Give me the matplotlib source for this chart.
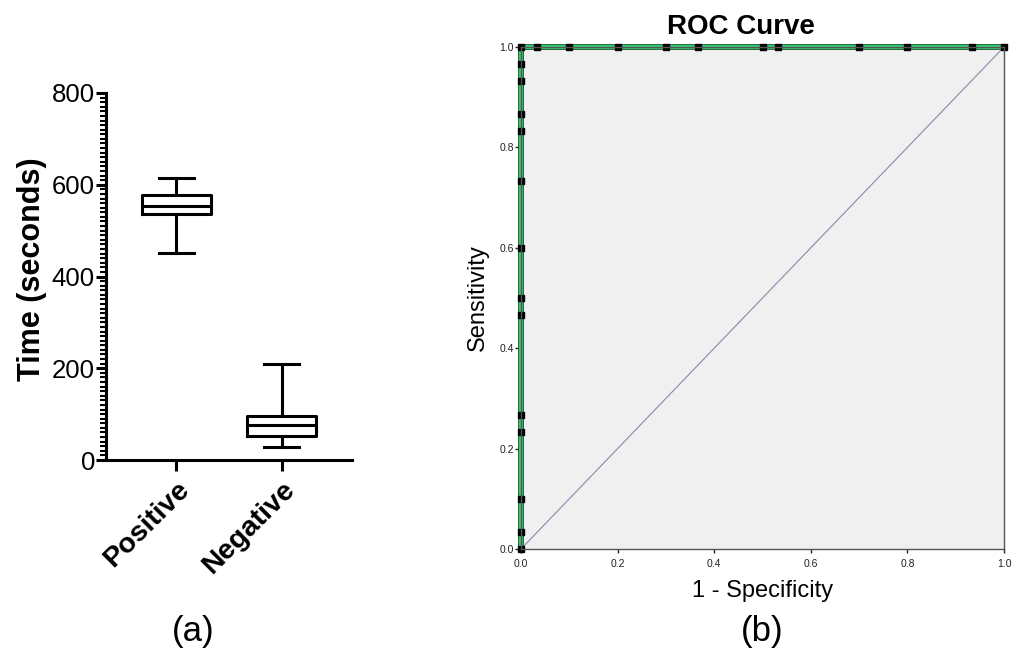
import numpy as np
import matplotlib
matplotlib.use('Agg')
import matplotlib.pyplot as plt
import matplotlib.patheffects as pe
from matplotlib.ticker import MultipleLocator, FormatStrFormatter

plt.rcParams['font.family'] = ['Liberation Sans', 'DejaVu Sans']

# (a) box plot summary, seconds
groups   = ['Positive', 'Negative']
whis_lo  = [451, 29]
q1       = [536, 52]
median   = [553, 76]
q3       = [577, 97]
whis_hi  = [615, 209]

# (b) ROC curve points
roc_fpr = [0.0, 0.0, 0.0, 0.0, 0.0, 0.0, 0.0, 0.0, 0.0, 0.0, 0.0, 0.0, 0.0, 0.0,
           0.033, 0.1, 0.2, 0.3, 0.367, 0.5, 0.533, 0.7, 0.8, 0.933, 1.0]
roc_tpr = [0.0, 0.033, 0.1, 0.233, 0.267, 0.467, 0.5, 0.6, 0.733, 0.833, 0.867,
           0.933, 0.967, 1.0,
           1.0, 1.0, 1.0, 1.0, 1.0, 1.0, 1.0, 1.0, 1.0, 1.0, 1.0]
ref_line = [0.0, 1.0]

W, H = 1019, 655
fig = plt.figure(figsize=(W / 100, H / 100), dpi=100)

# ---- (a) ----
ax = fig.add_axes([106 / W, 1 - 460 / H, 246 / W, 367 / H])
stats = []
for i, g in enumerate(groups):
  stats.append(dict(label=g, whislo=whis_lo[i], q1=q1[i], med=median[i],
                    q3=q3[i], whishi=whis_hi[i], fliers=[]))
lw = 2.2
ax.bxp(stats, positions=[0, 1], widths=0.66, showfliers=False,
       boxprops=dict(color='k', linewidth=lw),
       medianprops=dict(color='k', linewidth=lw),
       whiskerprops=dict(color='k', linewidth=lw),
       capprops=dict(color='k', linewidth=lw),
       capwidths=0.33)
ax.set_xlim(-0.667, 1.667)
ax.set_ylim(0, 800)
ax.yaxis.set_major_locator(MultipleLocator(200))
ax.yaxis.set_minor_locator(MultipleLocator(10))
for s in ['top', 'right']:
  ax.spines[s].set_visible(False)
for s in ['left', 'bottom']:
  ax.spines[s].set_linewidth(lw)
ax.tick_params(axis='y', which='major', length=7, width=lw, labelsize=18.5, pad=1)
ax.tick_params(axis='y', which='minor', length=4, width=1.5)
ax.tick_params(axis='x', length=8, width=lw, pad=4)
ax.set_xticks([0, 1])
ax.set_xticklabels(groups, rotation=45, ha='right', va='top',
                   rotation_mode='anchor', fontsize=20.5, fontweight='bold')
ax.set_ylabel('Time (seconds)', fontsize=22, fontweight='bold')
ax.yaxis.set_label_coords(-0.24, 0.52)
fig.text(193 / W, 1 - 632 / H, '(a)', fontsize=25, ha='center', va='center')

# ---- (b) ----
bx = fig.add_axes([521 / W, 1 - 549 / H, 483 / W, 502 / H])
bx.set_facecolor('#f0f0f0')
bx.plot(ref_line, ref_line, color='#8888aa', linewidth=0.8)
bx.plot(roc_fpr, roc_tpr, color='#2fd373', linewidth=2.8, clip_on=False,
        solid_joinstyle='miter',
        path_effects=[pe.Stroke(linewidth=4.2, foreground='#1e5a34'), pe.Normal()])
bx.plot(roc_fpr, roc_tpr, linestyle='none', marker='s', markersize=4.2,
        markerfacecolor='k', markeredgecolor='k', clip_on=False)
bx.set_xlim(0, 1)
bx.set_ylim(0, 1)
bx.set_xticks(np.arange(0, 1.01, 0.2))
bx.set_yticks(np.arange(0, 1.01, 0.2))
bx.xaxis.set_major_formatter(FormatStrFormatter('%.1f'))
bx.yaxis.set_major_formatter(FormatStrFormatter('%.1f'))
bx.tick_params(axis='y', length=4, width=1, labelsize=7.5, colors='#222222', pad=1)
bx.tick_params(axis='x', length=3, width=1, labelsize=7.5, colors='#222222', pad=4)
for s in bx.spines.values():
  s.set_color('#555555')
  s.set_linewidth(1)
bx.set_xlabel('1 - Specificity', fontsize=17, labelpad=8)
bx.set_ylabel('Sensitivity', fontsize=17, labelpad=8)
fig.text(741 / W, 1 - 27 / H, 'ROC Curve', fontsize=20, fontweight='bold',
         ha='center', va='center')
fig.text(762 / W, 1 - 632 / H, '(b)', fontsize=25, ha='center', va='center')

fig.savefig('out.png', dpi=100)
